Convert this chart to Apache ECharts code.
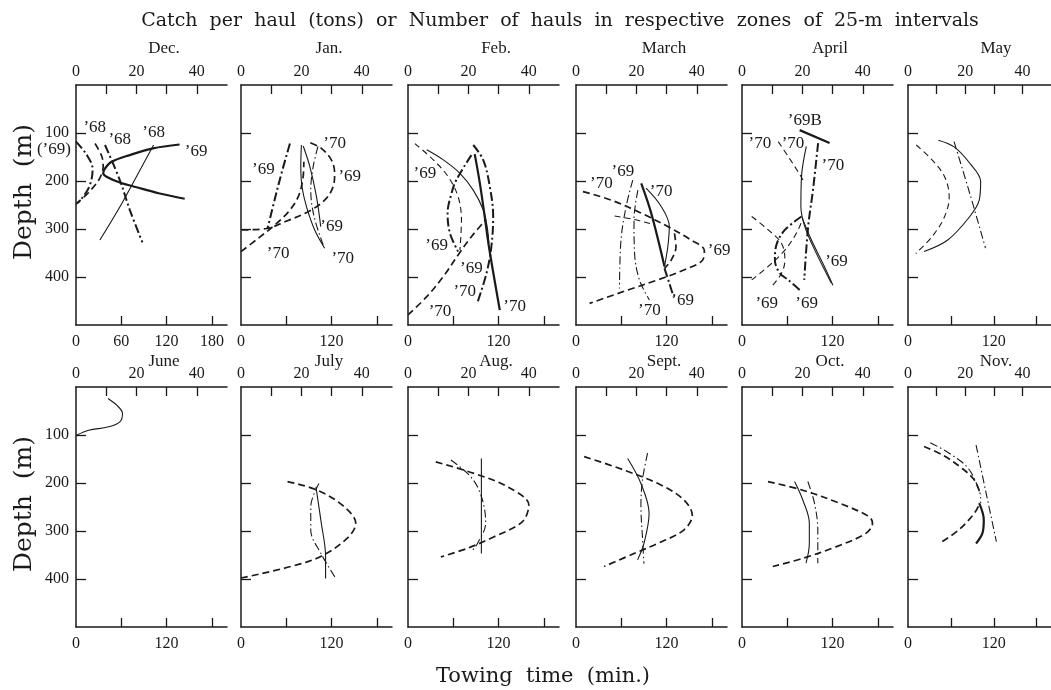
<!DOCTYPE html>
<html><head><meta charset="utf-8">
<script src="https://cdn.jsdelivr.net/npm/echarts@6/dist/echarts.min.js"></script>
<style>html,body{margin:0;padding:0;background:#fff}#c{width:1051px;height:690px}</style>
</head><body><div id="c"></div>
<script>
// ---- panel names ----
const months = ['Dec.','Jan.','Feb.','March','April','May','June','July','Aug.','Sept.','Oct.','Nov.'];
// ---- tick values ----
const catchTicks = [10,20,30,40];
const catchLabels = [0,20,40];
const timeTicks = [60,120,180];
const timeLabelsFirst = [0,60,120,180];
const timeLabels = [0,120];
const depthTicks = [100,200,300,400];

// ---- curves: [catch (tons), depth (m)] ----
const dec69 = [[34.3,124],[25.5,132],[17.8,146],[11.8,160],[9.6,174],[9.0,184],[10.1,191],[14.5,203],[20.0,213],[27.7,226],[36.0,237]];
const dec68a = [[25.7,125],[20.0,191],[14.5,254],[7.9,323]];
const dec68b = [[9.6,125],[14.5,198],[17.8,260],[22.0,328]];
const dec68c = [[6.3,122],[8.5,148],[9.0,168],[7.8,195],[4.0,225],[0.5,245]];
const dec69p = [[0,118],[3.5,145],[5.5,175],[4.5,210],[1.5,240],[0,248]];

const jan69a = [[16.2,122],[13.8,175],[11.3,235],[8.8,299]];
const jan69b = [[0.2,302],[8.5,299],[14.5,285],[22.2,264],[27.7,240],[30.5,212],[31.0,184],[29.9,156],[26.6,132],[22.8,120]];
const jan70a = [[0,347],[6,318],[11.5,290],[16,262],[19,232],[20.5,195],[20.8,160]];
const jan70b = [[20.0,125],[19.8,170],[20.2,212],[21.7,254],[24.4,302],[27.7,340]];
const jan69c = [[20.6,127],[22.8,170],[25.0,233],[26.4,295]];
const jan70c = [[25.5,128],[23.9,170],[23.1,219],[24.2,274],[27.2,333]];

const feb69a = [[2.3,122],[8.4,156],[13.3,191],[16.6,233],[17.7,281],[17.2,344]];
const feb69b = [[6.2,135],[11.7,156],[17.2,184],[21.6,219],[24.9,260],[26.2,295],[26.8,330]];
const feb69c = [[21.0,146],[16.0,198],[14.4,226],[13.1,267],[13.9,309],[16.6,347]];
const feb70a = [[22.1,144],[23.8,205],[25.4,274],[26.8,337],[30.4,469]];
const feb70b = [[21.6,125],[24.9,156],[27.1,212],[28.2,274],[27.6,337],[26.0,392],[22.9,455]];
const feb70c = [[0,479],[6.2,441],[11.7,399],[16.6,354],[21.0,316],[25.7,281]];

const mar69a = [[2.3,222],[11.7,240],[21.6,267],[30.4,295],[38.1,323],[42.5,345],[41.9,365],[35.9,385],[27.1,406],[17.2,427],[4.5,455]];
const mar69b = [[18.8,198],[16.6,253],[14.9,323],[14.4,424]];
const mar70a = [[20.5,219],[19.2,281],[19.4,351],[21.0,406],[24.3,448]];
const mar70b = [[21.6,205],[24.9,267],[29.3,378]];
const mar70c = [[23.2,215],[28.2,253],[30.9,295],[30.4,337],[29.3,378]];
const mar69c = [[32.6,309],[33.1,337],[31.5,365],[29.3,382]];
const mar69d = [[29.3,382],[30.9,413],[32.3,441]];
const mar70d = [[12.8,273],[19.0,280],[25.4,290]];

const apr69B = [[19.1,94],[29.0,121]];
const apr70a = [[25.2,121],[23.5,219],[21.9,295],[20.6,406]];
const apr70b = [[21.3,128],[19.7,191],[19.5,253],[20.8,295],[24.1,344],[29.6,413]];
const apr69a = [[20.2,281],[23.0,323],[26.8,372],[30.1,417]];
const apr70c = [[12.0,118],[15.3,149],[18.6,181],[20.2,198]];
const apr69b = [[19.7,274],[14.2,302],[11.4,333],[10.9,365],[12.5,392],[15.3,406],[19.1,427]];
const apr69c = [[3.2,406],[8.7,378],[14.2,344],[18.0,309],[20.2,278]];
const apr69d = [[3.2,274],[8.7,302],[13.1,330],[14.2,365],[13.1,392],[9.8,420]];

const may1 = [[10.6,115],[16.1,129],[21.6,163],[25.4,201],[24.9,240],[21.6,274],[13.9,323],[5.6,347]];
const may2 = [[2.9,125],[8.4,156],[12.8,191],[14.4,233],[12.8,274],[8.4,316],[2.7,351]];
const may3 = [[16.1,118],[21.6,226],[27.1,340]];

const jun1 = [[10.6,24],[13.5,38],[15.4,55],[14.6,72],[10.8,83],[4.2,90],[0.3,100]];

const jul1 = [[15.4,197],[25.3,215],[34.1,249],[38.0,284],[35.2,315],[26.4,353],[16.5,374],[0,398]];
const jul2 = [[24.8,208],[26.5,280],[28.0,353],[28.0,399]];
const jul3 = [[25.8,201],[23.1,249],[23.1,298],[26.4,346],[31.4,399]];

const aug1 = [[9.2,156],[21.9,180],[33.0,208],[40.0,246],[37.8,281],[28.5,312],[19.7,336],[10.9,354]];
const aug2 = [[24.3,149],[24.3,250],[24.3,347]];
const aug3 = [[14.2,152],[19.7,180],[23.0,208],[25.2,249],[25.7,284],[23.0,326],[21.4,340]];

const sep1 = [[2.7,145],[15.9,173],[28.1,204],[35.7,235],[38.5,267],[35.7,298],[27.0,326],[19.2,347],[9.3,374]];
const sep2 = [[17.1,149],[21.5,201],[24.2,263],[22.5,326],[20.4,360]];
const sep3 = [[23.7,138],[22.0,194],[21.5,249],[22.0,312],[22.5,368]];

const oct1 = [[8.6,197],[20.1,215],[32.2,242],[42.1,270],[43.2,284],[41.0,305],[31.1,333],[20.1,357],[10.2,374]];
const oct2 = [[17.4,197],[20.1,235],[22.3,284],[22.3,326],[21.2,367]];
const oct3 = [[21.8,197],[24.0,242],[25.1,298],[25.1,367]];

const nov1 = [[5.6,124],[12.2,142],[18.8,169],[23.2,194],[25.4,225]];
const nov2 = [[7.8,116],[14.4,138],[21.0,169],[24.9,215],[25.4,232]];
const nov3 = [[24.9,242],[26.5,277],[26.0,305],[23.8,326]];
const nov4 = [[12.0,322],[17.7,298],[23.2,263],[25.4,239]];
const nov5 = [[23.8,121],[27.1,215],[30.9,322]];

// ---- year annotations: [catch, depth, text] ----
const decLabels = [[6.2,89,'’68'],[14.5,113,'’68'],[25.7,100,'’68'],[39.8,139,'’69'],[-7.3,134,'(’69)']];
const janLabels = [[31,121,'’70'],[7.4,177,'’69'],[36,191,'’69'],[30,295,'’69'],[12.3,351,'’70'],[33.7,361,'’70']];
const febLabels = [[5.6,184,'’69'],[9.5,334,'’69'],[21,382,'’69'],[18.8,430,'’70'],[10.6,472,'’70'],[35.3,462,'’70']];
const marLabels = [[8.4,205,'’70'],[15.5,181,'’69'],[28.2,222,'’70'],[47.4,344,'’69'],[35.3,448,'’69'],[24.3,469,'’70']];
const aprLabels = [[20.8,73,'’69B'],[5.9,121,'’70'],[16.9,121,'’70'],[30.1,167,'’70'],[31.3,368,'’69'],[8.2,455,'’69'],[21.4,455,'’69']];

// ---- curve list (panel index, data, line style key) ----
const curves = [
  [0,dec69,'thick'],[0,dec68a,'thin'],[0,dec68b,'dashDotThick'],[0,dec68c,'dashed'],[0,dec69p,'dashDotThick'],
  [1,jan69a,'dashDotThick'],[1,jan69b,'dashed'],[1,jan70a,'dashed'],[1,jan70b,'thin'],[1,jan69c,'thin'],[1,jan70c,'dashDotThin'],
  [2,feb69a,'dashedThin'],[2,feb69b,'thin'],[2,feb69c,'dashDotThick'],[2,feb70a,'thick'],[2,feb70b,'dashDotThick'],[2,feb70c,'dashed'],
  [3,mar69a,'dashed'],[3,mar69b,'dashDotThin'],[3,mar70a,'dashDotThin'],[3,mar70b,'thick'],[3,mar70c,'thin'],[3,mar69c,'dashed'],[3,mar69d,'dashDotThick'],[3,mar70d,'dashedThin'],
  [4,apr69B,'thick'],[4,apr70a,'dashDotThick'],[4,apr70b,'thin'],[4,apr69a,'thin'],[4,apr70c,'dashedThin'],[4,apr69b,'dashDotThick'],[4,apr69c,'dashedThin'],[4,apr69d,'dashedThin'],
  [5,may1,'thin'],[5,may2,'dashedThin'],[5,may3,'dashDotThin'],
  [6,jun1,'thin'],
  [7,jul1,'dashed'],[7,jul2,'thin'],[7,jul3,'dashDotThin'],
  [8,aug1,'dashed'],[8,aug2,'thin'],[8,aug3,'dashDotThin'],
  [9,sep1,'dashed'],[9,sep2,'thin'],[9,sep3,'dashDotThin'],
  [10,oct1,'dashed'],[10,oct2,'thin'],[10,oct3,'dashDotThin'],
  [11,nov1,'dashed'],[11,nov2,'dashDotThin'],[11,nov3,'thick'],[11,nov4,'dashed'],[11,nov5,'dashDotThin']
];
const labelSets = [[0,decLabels],[1,janLabels],[2,febLabels],[3,marLabels],[4,aprLabels]];

// ---- layout & style ----
const INK = '#1a1a1a';
const SERIF = '"Liberation Serif", "DejaVu Serif", serif';
const lefts = [76, 241, 408, 576, 742, 908];
const tops = [85, 387];
const W = 151, H = 240;
const styles = {
  thick: {width: 2.2, type: 'solid'},
  thin: {width: 1.1, type: 'solid'},
  dashed: {width: 1.7, type: [7, 4]},
  dashedThin: {width: 1.1, type: [6, 4]},
  dashDotThick: {width: 2, type: [9, 3, 2, 3]},
  dashDotThin: {width: 1.1, type: [8, 3, 1.5, 3]}
};

const grid = [], xAxis = [], yAxis = [], series = [], graphic = [];
const axisLine = {show: true, onZero: false, lineStyle: {color: INK, width: 1.5}};
const lab = {color: INK, fontFamily: SERIF, fontSize: 16};
const centerText = {textAlign: 'center', textVerticalAlign: 'middle', align: 'center', verticalAlign: 'middle', fill: INK};
for (let i = 0; i < 12; i++) {
  const row = Math.floor(i / 6), col = i % 6;
  grid.push({left: lefts[col], top: tops[row], width: W, height: H});
  xAxis.push({type: 'value', gridIndex: i, position: 'top', min: 0, max: 50,
    axisLine: axisLine, splitLine: {show: false},
    axisTick: {inside: true, length: 9, customValues: catchTicks, lineStyle: {color: INK, width: 1.3}},
    axisLabel: Object.assign({customValues: catchLabels, margin: 5}, lab)});
  xAxis.push({type: 'value', gridIndex: i, position: 'bottom', min: 0, max: 200,
    axisLine: axisLine, splitLine: {show: false},
    axisTick: {inside: true, length: 9, customValues: timeTicks, lineStyle: {color: INK, width: 1.3}},
    axisLabel: Object.assign({customValues: i === 0 ? timeLabelsFirst : timeLabels, margin: 9}, lab)});
  yAxis.push({type: 'value', gridIndex: i, inverse: true, min: 0, max: 500,
    axisLine: axisLine, splitLine: {show: false},
    axisTick: {inside: true, length: 10, customValues: depthTicks, lineStyle: {color: INK, width: 1.3}},
    axisLabel: Object.assign({show: col === 0, customValues: depthTicks, margin: 7}, lab)});
  graphic.push({type: 'text', x: lefts[col] + 88, y: row === 0 ? 49 : 362,
    style: Object.assign({text: months[i], font: '17px ' + SERIF}, centerText)});
}
curves.forEach(([p, d, s]) => {
  series.push({type: 'line', xAxisIndex: 2 * p, yAxisIndex: p, data: d, smooth: 0.35,
    symbol: 'none', silent: true, lineStyle: Object.assign({color: INK}, styles[s])});
});
labelSets.forEach(([p, arr]) => {
  series.push({type: 'scatter', xAxisIndex: 2 * p, yAxisIndex: p, clip: false, silent: true,
    symbolSize: 1, itemStyle: {color: 'rgba(0,0,0,0)', opacity: 1},
    emphasis: {disabled: true},
    data: arr.map(a => ({value: [a[0], a[1]], label: {formatter: a[2]}})),
    label: {show: true, position: 'inside', color: INK, opacity: 1, textBorderWidth: 0,
      fontFamily: SERIF, fontSize: 17}});
});

graphic.push({type: 'text', x: 560, y: 21,
  style: Object.assign({text: 'Catch  per  haul  (tons)  or  Number  of  hauls  in  respective  zones  of  25-m  intervals',
    font: '19px "DejaVu Serif", serif'}, centerText)});
graphic.push({type: 'text', x: 543, y: 677,
  style: Object.assign({text: 'Towing  time  (min.)', font: '21px "DejaVu Serif", serif'}, centerText)});
[192, 504].forEach(yc => {
  graphic.push({type: 'text', x: 24, y: yc, rotation: Math.PI / 2,
    style: Object.assign({text: 'Depth  (m)', font: '25px "DejaVu Serif", serif'}, centerText)});
});

const chart = echarts.init(document.getElementById('c'), null, {renderer: 'canvas'});
chart.setOption({animation: false, backgroundColor: '#fff', grid, xAxis, yAxis, series, graphic});
</script>
</body></html>
